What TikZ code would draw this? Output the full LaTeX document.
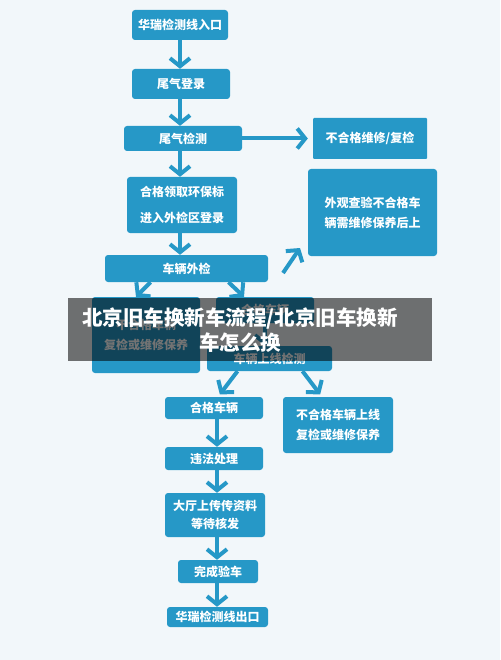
\documentclass[tikz,border=0pt]{standalone}
\usepackage{fontspec}
\newfontfamily\cjk{Noto Sans CJK SC}
\usetikzlibrary{arrows.meta}
\definecolor{boxblue}{RGB}{38,152,199}
\definecolor{bgcol}{RGB}{242,247,250}
\begin{document}
\begin{tikzpicture}[x=1pt,y=-1pt,
  box/.style={fill=boxblue, rounded corners=3pt, text=white, align=center, inner sep=0pt,
    font=\cjk\bfseries\fontsize{12}{20}\selectfont},
  flow/.style={draw=boxblue, line width=4pt, -{Straight Barb[length=8pt,width=20pt]}},
  bannertext/.style={text=white, align=center, inner sep=0pt,
    font=\cjk\bfseries\fontsize{20.5}{25}\selectfont}]
\useasboundingbox (0,0) rectangle (500,660);
\fill[bgcol] (0,0) rectangle (500,660);

\node[box, minimum width=96pt, minimum height=30pt] (b1) at (180,25) {华瑞检测线入口};
\node[box, minimum width=98pt, minimum height=30pt] (b2) at (181,84) {尾气登录};
\node[box, minimum width=118pt, minimum height=25pt] (b3) at (183,138.5) {尾气检测};
\node[box, rounded corners=1pt, minimum width=114pt, minimum height=41pt] (b4) at (370,138.5) {不合格维修/复检};
\node[box, minimum width=129pt, minimum height=87pt] (b5) at (372.5,212.5) {外观查验不合格车\\辆需维修保养后上};
\node[box, minimum width=110pt, minimum height=56pt, font=\cjk\bfseries\fontsize{12}{26}\selectfont] (b6) at (182,205) {合格领取环保标\\进入外检区登录};
\node[box, minimum width=163pt, minimum height=27pt] (b7) at (186.5,268.5) {车辆外检};
\node[box, minimum width=108pt, minimum height=76pt] (b8) at (146,335) {不合格车辆\\复检或维修保养};
\node[box, minimum width=98pt, minimum height=26pt] (b9) at (265,310) {合格车辆};
\node[box, minimum width=125pt, minimum height=25pt] (b10) at (269.5,358.5) {车辆上线检测};
\node[box, minimum width=98pt, minimum height=22pt] (b11) at (214,408) {合格车辆};
\node[box, minimum width=110pt, minimum height=56pt] (b12) at (338,425) {不合格车辆上线\\复检或维修保养};
\node[box, minimum width=98pt, minimum height=23pt] (b13) at (214,458.5) {违法处理};
\node[box, minimum width=100pt, minimum height=44pt, font=\cjk\bfseries\fontsize{12}{18}\selectfont] (b14) at (215,515) {大厅上传传资料\\等待核发};
\node[box, minimum width=80pt, minimum height=23pt] (b15) at (218,571.5) {完成验车};
\node[box, minimum width=101pt, minimum height=20pt] (b16) at (217.5,617) {华瑞检测线出口};

\draw[flow] (b1.south) -- (b1.south |- b2.north);
\draw[flow] (b1.south |- b2.south) -- (b1.south |- b3.north);
\draw[flow] (b1.south |- b3.south) -- (b1.south |- b6.north);
\draw[flow] (b1.south |- b6.south) -- (b1.south |- b7.north);
\draw[flow, shorten >=5pt] (b3.east) -- (b3.east -| b4.west);
\coordinate (d1) at (283,273);
\coordinate (d2) at (300,248);
\draw[flow] (d1) -- (d2);
\draw[flow] ([xshift=-36pt]b7.south) -- ([xshift=-10pt]b8.north);
\draw[flow] ([xshift=42pt]b7.south) -- ([xshift=-21pt]b9.north);
\draw[flow] (b9.south) -- (b9.south |- b10.north);
\draw[flow, shorten >=3pt] ([xshift=-32pt]b10.south) -- ([xshift=4pt]b11.north);
\draw[flow, shorten >=3pt] ([xshift=33pt]b10.south) -- ([xshift=-16pt]b12.north);
\draw[flow] ([xshift=3pt]b11.south) -- ([xshift=3pt]b11.south |- b13.north);
\draw[flow] ([xshift=3pt]b11.south |- b13.south) -- ([xshift=3pt]b11.south |- b14.north);
\draw[flow] ([xshift=3pt]b11.south |- b14.south) -- ([xshift=3pt]b11.south |- b15.north);
\draw[flow] ([xshift=3pt]b11.south |- b15.south) -- ([xshift=3pt]b11.south |- b16.north);

\fill[black, opacity=0.55] (68,298) rectangle (432,361);
\node[bannertext] (cap) at (240,330) {北京旧车换新车流程/北京旧车换新\\车怎么换};
\end{tikzpicture}
\end{document}
